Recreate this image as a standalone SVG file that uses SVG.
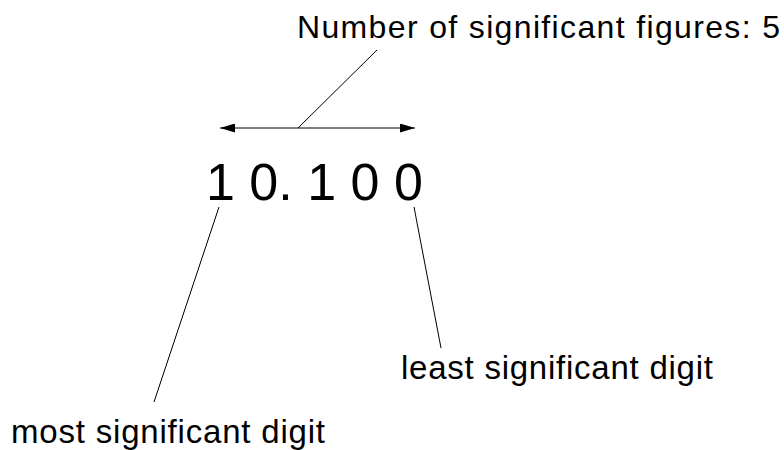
<svg xmlns="http://www.w3.org/2000/svg" width="784" height="450" viewBox="0 0 784 450">
<style>
.t{font-family:"Liberation Sans",Arial,sans-serif;fill:#000}
.ln{stroke:#000;stroke-width:1;fill:none}
</style>
<defs>
<marker id="ah" viewBox="0 0 15 9" refX="15" refY="4.5" markerWidth="15" markerHeight="9" markerUnits="userSpaceOnUse" orient="auto-start-reverse">
<path d="M0,0 L15,4.5 L0,9 Z" fill="#000"/>
</marker>
</defs>
<rect width="784" height="450" fill="#fff"/>
<g id="number">
<text class="t" x="206" y="200" font-size="52" xml:space="preserve">1 0. 1 0 0</text>
</g>
<g id="label-count">
<text class="t" x="297" y="38" font-size="32" textLength="483" lengthAdjust="spacing">Number of significant figures: 5</text>
</g>
<g id="label-least">
<text class="t" x="401" y="379" font-size="33" textLength="312" lengthAdjust="spacing">least significant digit</text>
</g>
<g id="label-most">
<text class="t" x="11" y="443" font-size="33" textLength="314" lengthAdjust="spacing">most significant digit</text>
</g>
<g id="connectors">
<line class="ln" x1="220" y1="128" x2="415" y2="128" stroke-width="1.5" marker-start="url(#ah)" marker-end="url(#ah)"/>
<line class="ln" x1="298" y1="128" x2="377" y2="50"/>
<line class="ln" x1="219" y1="207" x2="154" y2="402"/>
<line class="ln" x1="414" y1="207" x2="441" y2="348"/>
</g>
</svg>
